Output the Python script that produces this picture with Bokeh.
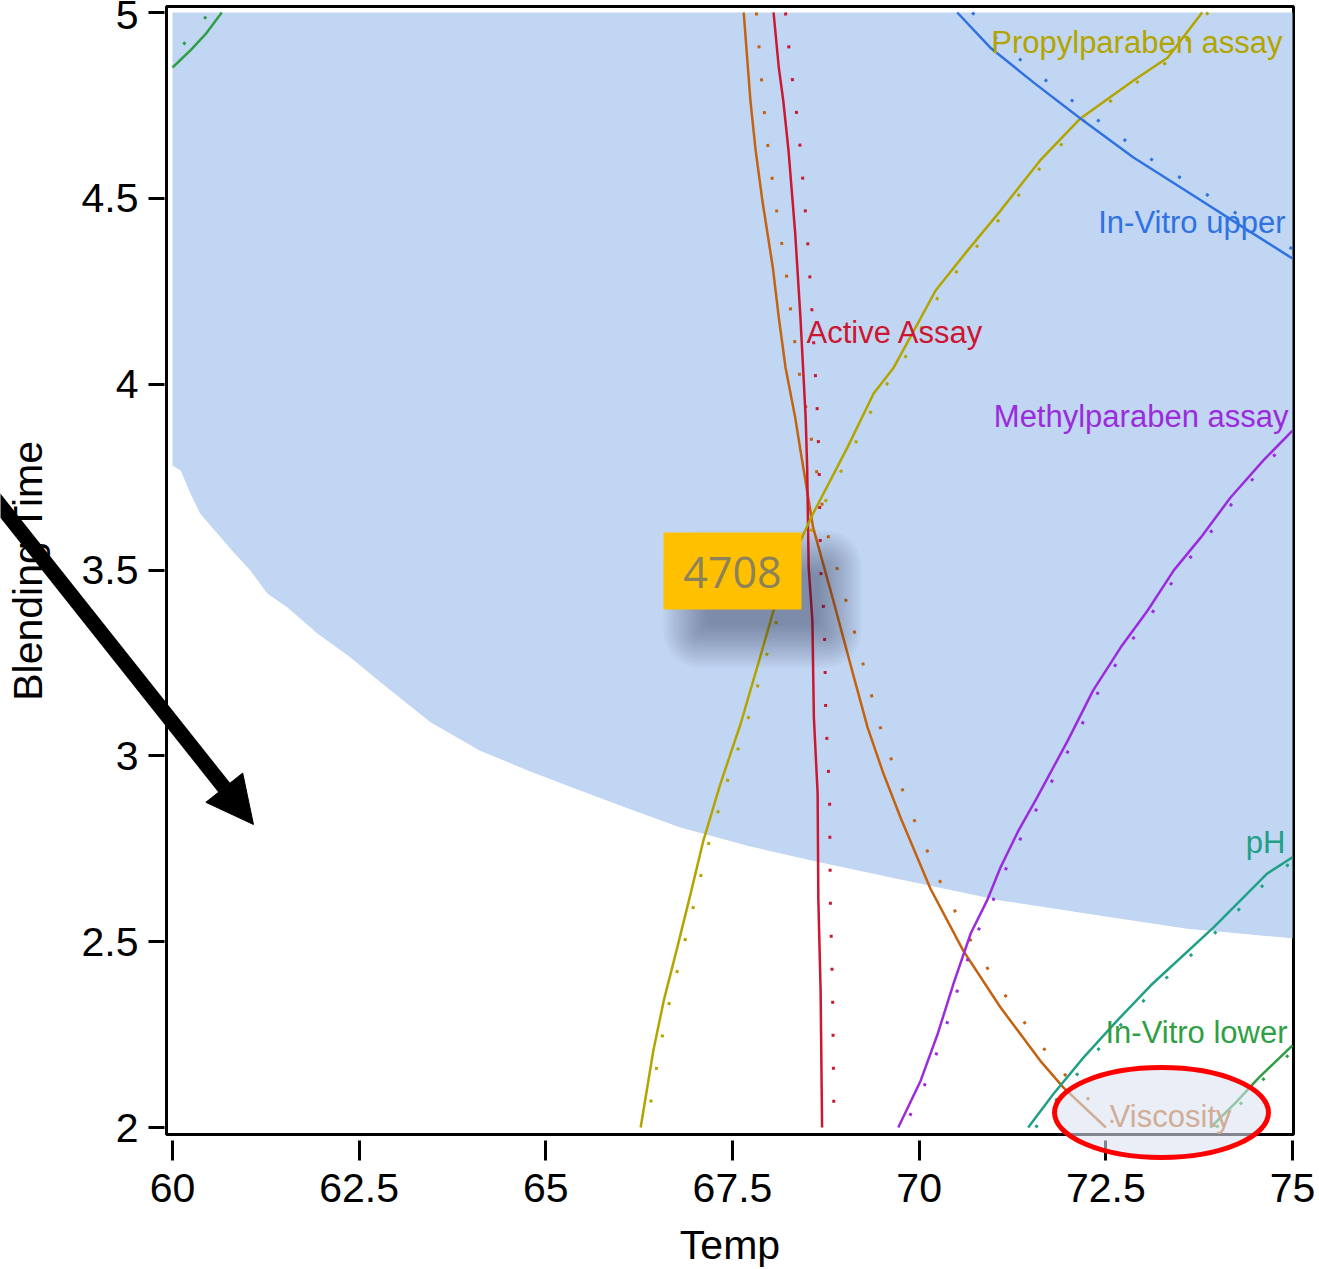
from bokeh.plotting import figure
from bokeh.models import (ColumnDataSource, FixedTicker, NumeralTickFormatter, Label,
                          Arrow, NormalHead, BoxAnnotation, Range1d)
from bokeh.transform import dodge
from bokeh.core.properties import value
from bokeh.embed import file_html
from bokeh.resources import INLINE

# ---------------- data ----------------
x_ticks = [60, 62.5, 65, 67.5, 70, 72.5, 75]
y_ticks = [2, 2.5, 3, 3.5, 4, 4.5, 5]

# lower edge of the shaded (feasible) region, left to right
region_temp = [60.0, 60.11, 60.24, 60.37, 60.60, 60.82, 61.04, 61.27, 61.54, 61.94, 62.38, 62.79,
               63.46, 64.12, 64.79, 65.46, 66.13, 66.80, 67.74, 68.68, 69.75, 71.09, 72.43, 73.59, 75.0]
region_time = [3.781, 3.768, 3.706, 3.652, 3.598, 3.547, 3.499, 3.437, 3.399, 3.329, 3.265, 3.197,
               3.090, 3.014, 2.958, 2.907, 2.856, 2.807, 2.756, 2.713, 2.667, 2.611, 2.570, 2.535, 2.509]

viscosity_temp = [67.65, 67.74, 67.81, 67.90, 68.04, 68.12, 68.21, 68.34, 68.41, 68.58, 68.85, 69.12,
                  69.31, 69.52, 69.75, 70.15, 70.59, 71.09, 71.62, 71.93, 72.50]
viscosity_time = [5.0, 4.763, 4.629, 4.494, 4.314, 4.179, 4.045, 3.910, 3.822, 3.614, 3.418, 3.216,
                  3.076, 2.953, 2.834, 2.643, 2.476, 2.323, 2.180, 2.108, 2.0]

active_temp = [68.05, 68.12, 68.18, 68.25, 68.34, 68.41, 68.48, 68.50, 68.52, 68.57, 68.59, 68.64,
               68.65, 68.68, 68.70]
active_time = [5.0, 4.852, 4.763, 4.629, 4.405, 4.179, 3.910, 3.776, 3.507, 3.364, 3.103, 2.899,
               2.611, 2.369, 2.0]

propyl_temp = [73.79, 73.33, 72.87, 72.16, 71.62, 71.09, 70.65, 70.22, 69.98, 69.66, 69.39, 69.04,
               68.58, 68.41, 68.05, 67.83, 67.61, 67.34, 67.11, 66.94, 66.76, 66.58, 66.44, 66.27]
propyl_time = [5.0, 4.879, 4.817, 4.715, 4.602, 4.467, 4.360, 4.252, 4.163, 4.045, 3.975, 3.830,
               3.652, 3.579, 3.391, 3.238, 3.087, 2.926, 2.772, 2.630, 2.484, 2.342, 2.207, 2.0]

invitro_up_temp = [70.51, 70.95, 71.53, 72.16, 72.87, 73.63, 74.34, 75.0]
invitro_up_time = [5.0, 4.906, 4.812, 4.715, 4.610, 4.513, 4.422, 4.338]

methyl_temp = [75.0, 74.61, 74.17, 73.77, 73.41, 73.06, 72.70, 72.33, 71.99, 71.58, 71.33, 71.09,
               70.91, 70.69, 70.46, 70.25, 70.02, 69.72]
methyl_time = [3.875, 3.795, 3.695, 3.587, 3.499, 3.391, 3.292, 3.176, 3.041, 2.888, 2.799, 2.700,
               2.611, 2.522, 2.387, 2.253, 2.126, 2.0]

ph_temp = [71.46, 71.80, 72.20, 72.63, 73.10, 73.94, 74.66, 75.0]
ph_time = [2.0, 2.091, 2.188, 2.283, 2.382, 2.538, 2.683, 2.727]

invitro_low_temp = [73.90, 74.24, 74.54, 75.0]
invitro_low_time = [2.0, 2.067, 2.132, 2.221]

invitro_low2_temp = [60.0, 60.24, 60.44, 60.66]
invitro_low2_time = [4.852, 4.898, 4.941, 5.0]

label_text = ["Propylparaben assay", "In-Vitro upper", "Methylparaben assay", "pH",
              "In-Vitro lower", "Viscosity"]
label_x = [74.866, 74.906, 74.946, 74.906, 74.933, 74.183]
label_y = [4.918, 4.434, 3.912, 2.768, 2.256, 2.030]
active_label_x = [68.491]
active_label_y = [4.140]

highlight_value = "4708"

# ---------------- colours ----------------
C_VISC = "#c4620f"
C_ACT = "#cc1731"
C_PROP = "#b3a400"
C_UP = "#2f72e0"
C_METH = "#9b2bdc"
C_PH = "#21a085"
C_LOW = "#2f9f45"
FONT = "Liberation Sans"

W, H = 1319, 1269
PX_X = 74.667   # pixels per Temp unit
PX_Y = 371.67   # pixels per Blending-Time unit

# ---------------- main figure ----------------
p = figure(width=W, height=H, output_backend="svg", toolbar_location=None, name="main",
           x_range=Range1d(59.91964, 75.01339), y_range=Range1d(1.98117, 5.01614),
           min_border_left=166, min_border_right=W - 166 - 1127, min_border_top=6,
           min_border_bottom=H - 6 - 1128,
           background_fill_color="white", border_fill_color="white")
p.xgrid.visible = False
p.ygrid.visible = False
p.outline_line_color = "black"
p.outline_line_width = 3
p.outline_line_alpha = 1.0

p.xaxis.ticker = FixedTicker(ticks=x_ticks)
p.yaxis.ticker = FixedTicker(ticks=y_ticks)
p.axis.formatter = NumeralTickFormatter(format="0.[0]")
p.axis.axis_line_color = None
p.axis.minor_tick_line_color = None
p.axis.major_tick_line_color = "black"
p.axis.major_tick_line_width = 3
p.xaxis.major_tick_in = -6
p.xaxis.major_tick_out = 26
p.yaxis.major_tick_in = -2
p.yaxis.major_tick_out = 18
p.axis.major_label_text_font = FONT
p.axis.major_label_text_font_size = "41px"
p.axis.major_label_text_color = "black"
p.xaxis.major_label_standoff = 13
p.yaxis.major_label_standoff = 10
p.yaxis.axis_label = "Blending Time"
p.yaxis.axis_label_text_font = FONT
p.yaxis.axis_label_text_font_size = "41px"
p.yaxis.axis_label_text_font_style = "normal"
p.yaxis.axis_label_text_color = "black"
p.yaxis.axis_label_standoff = 28

# shaded region
p.patch([60, 75] + region_temp[::-1], [5, 5] + region_time[::-1],
        fill_color="#c1d6f3", line_color=None)

curves = [
    (invitro_low2_temp, invitro_low2_time, C_LOW, -0.17),
    (viscosity_temp, viscosity_time, C_VISC, 0.17),
    (active_temp, active_time, C_ACT, 0.16),
    (propyl_temp, propyl_time, C_PROP, 0.08),
    (invitro_up_temp, invitro_up_time, C_UP, 0.2),
    (methyl_temp, methyl_time, C_METH, 0.08),
    (ph_temp, ph_time, C_PH, 0.1),
    (invitro_low_temp, invitro_low_time, C_LOW, 0.08),
]
for xs, ys, col, off in curves:
    src = ColumnDataSource(dict(x=xs, y=ys))
    p.line("x", "y", source=src, line_color=col, line_width=2.5)
    p.line(x=dodge("x", off, range=p.x_range), y="y", source=src, line_color=col,
           line_width=3, line_dash="3 30")

lab_src = ColumnDataSource(dict(x=label_x, y=label_y, text=label_text,
                                color=[C_PROP, C_UP, C_METH, C_PH, C_LOW, C_VISC]))
p.text("x", "y", text="text", source=lab_src, text_color="color", text_align="right",
       text_baseline="middle", text_font=value(FONT), text_font_size="31px")
act_src = ColumnDataSource(dict(x=active_label_x, y=active_label_y, text=["Active Assay"]))
p.text("x", "y", text="text", source=act_src, text_color=C_ACT, text_align="left",
       text_baseline="middle", text_font=value(FONT), text_font_size="31px")

# call-out box with soft shadow
DX = 1 / PX_X
DY = 1 / PX_Y
bl, br, bt, bb = 66.576, 68.424, 3.6009, 3.3937
for k in range(15):
    e = 30 - 3 * k
    p.add_layout(BoxAnnotation(left=bl + (30 - e) * DX, right=br + (30 + e) * DX,
                               top=bt - (28 - e) * DY, bottom=bb - (28 + e) * DY,
                               fill_color="#1f2d4d", fill_alpha=0.032, line_color=None,
                               border_radius=int(max(e, 0) + 6)))
p.add_layout(BoxAnnotation(left=bl, right=br, top=bt, bottom=bb, fill_color="#ffc000",
                           fill_alpha=1.0, line_color=None))
p.add_layout(Label(x=67.50, y=3.4933, text=highlight_value, text_align="center",
                   text_baseline="middle", text_font="Open Sans", text_font_size="43px",
                   text_color="#8c8259"))

# ---------------- transparent overlay (same scale, whole canvas) ----------------
o = figure(width=W, height=H, output_backend="svg", toolbar_location=None, name="over",
           title=None, x_axis_location=None, y_axis_location=None,
           x_range=Range1d(60 - 172 / PX_X, 60 + (W - 172) / PX_X),
           y_range=Range1d(5 - (H - 12) / PX_Y, 5 + 12 / PX_Y),
           min_border=0, min_border_left=0, min_border_right=0, min_border_top=0,
           min_border_bottom=0)
o.background_fill_alpha = 0
o.border_fill_alpha = 0
o.outline_line_color = None
o.xgrid.visible = False
o.ygrid.visible = False

o.add_layout(Label(x=67.4665, y=1.6835, text="Temp", text_align="center",
                   text_baseline="middle", text_font=FONT, text_font_size="41px",
                   text_color="black"))
o.ellipse(x=[73.2455], y=[2.0404], width=[2.866], height=[0.2422],
          fill_color="#d9e2f1", fill_alpha=0.59, line_color="#ff0000", line_width=5)
o.add_layout(Arrow(end=NormalHead(size=47, fill_color="black", line_color="black"),
                   x_start=57.4286, y_start=3.7408, x_end=61.0848, y_end=2.8153,
                   line_color="black", line_width=15))

template = """
{% block contents %}
{% from macros import embed %}
<div style="position:absolute;left:0;top:0;width:1319px;height:1269px">
  <div style="position:absolute;left:0;top:0">{{ embed(roots.main) }}</div>
  <div style="position:absolute;left:0;top:0">{{ embed(roots.over) }}</div>
</div>
{% endblock %}
"""

open("out.html", "w").write(file_html([p, o], INLINE, template=template))
